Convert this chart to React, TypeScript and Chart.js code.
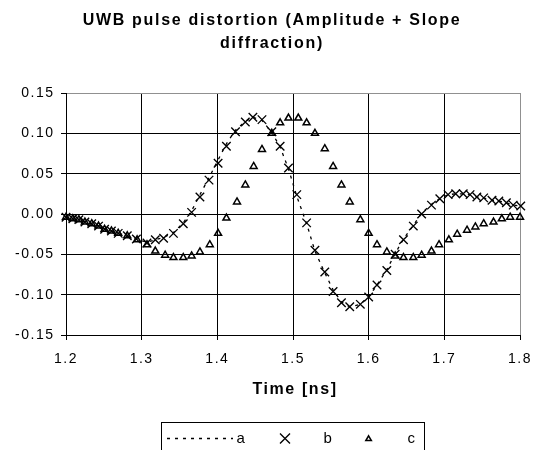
import React, { useEffect, useRef } from 'react';
import { Chart, registerables } from 'chart.js';

Chart.register(...registerables);

// ---- data ----
const chartTitle = ['UWB pulse distortion (Amplitude + Slope', 'diffraction)'];
const xAxisTitle = 'Time [ns]';
const seriesLabels = ['a', 'b', 'c'];

const xMin = 1.2;
const xMax = 1.8;
const xStep = 0.1;
const yMin = -0.15;
const yMax = 0.15;
const yStep = 0.05;

const timeB = [
  1.2, 1.209, 1.217, 1.225, 1.234, 1.243, 1.251, 1.26, 1.269, 1.281,
  1.293, 1.307, 1.318, 1.329, 1.342, 1.355, 1.366, 1.377, 1.389, 1.401,
  1.412, 1.424, 1.437, 1.447, 1.459, 1.472, 1.483, 1.494, 1.505, 1.518,
  1.529, 1.542, 1.553, 1.564, 1.575, 1.589, 1.6, 1.611, 1.624, 1.635,
  1.646, 1.659, 1.67, 1.683, 1.694, 1.705, 1.715, 1.725, 1.734, 1.743,
  1.752, 1.763, 1.772, 1.782, 1.791, 1.801,
];

const valuesA = [
  -0.004, -0.006, -0.007, -0.01, -0.012, -0.015, -0.019, -0.021, -0.024, -0.027,
  -0.031, -0.035, -0.032, -0.029, -0.023, -0.011, 0.004, 0.024, 0.045, 0.067,
  0.087, 0.104, 0.115, 0.12, 0.116, 0.101, 0.083, 0.056, 0.022, -0.012,
  -0.046, -0.073, -0.094, -0.109, -0.115, -0.112, -0.103, -0.088, -0.069, -0.049,
  -0.031, -0.014, 0.001, 0.012, 0.019, 0.024, 0.025, 0.025, 0.024, 0.021,
  0.02, 0.017, 0.016, 0.014, 0.011, 0.01,
];

const valuesB = [
  -0.004, -0.006, -0.007, -0.01, -0.012, -0.015, -0.019, -0.021, -0.024, -0.027,
  -0.031, -0.036, -0.032, -0.03, -0.024, -0.012, 0.002, 0.021, 0.042, 0.063,
  0.084, 0.102, 0.114, 0.12, 0.117, 0.102, 0.084, 0.057, 0.024, -0.011,
  -0.045, -0.072, -0.096, -0.11, -0.115, -0.112, -0.103, -0.088, -0.07, -0.05,
  -0.032, -0.015, 0.0, 0.011, 0.019, 0.024, 0.025, 0.025, 0.024, 0.021,
  0.02, 0.017, 0.016, 0.014, 0.011, 0.01,
];

const timeC = [
  1.2, 1.209, 1.217, 1.225, 1.234, 1.243, 1.251, 1.26, 1.269, 1.281,
  1.294, 1.307, 1.318, 1.331, 1.342, 1.355, 1.366, 1.377, 1.39, 1.401,
  1.412, 1.426, 1.437, 1.448, 1.459, 1.472, 1.483, 1.494, 1.507, 1.518,
  1.529, 1.542, 1.553, 1.564, 1.575, 1.589, 1.6, 1.611, 1.624, 1.635,
  1.646, 1.659, 1.67, 1.683, 1.693, 1.706, 1.717, 1.73, 1.741, 1.752,
  1.765, 1.776, 1.787, 1.8,
];

const valuesC = [
  -0.004, -0.006, -0.007, -0.01, -0.012, -0.015, -0.019, -0.021, -0.024, -0.027,
  -0.032, -0.038, -0.046, -0.051, -0.054, -0.054, -0.052, -0.047, -0.038, -0.024,
  -0.005, 0.015, 0.036, 0.059, 0.08, 0.1, 0.113, 0.119, 0.119, 0.113,
  0.1, 0.081, 0.059, 0.036, 0.015, -0.007, -0.024, -0.038, -0.047, -0.052,
  -0.054, -0.054, -0.051, -0.046, -0.038, -0.032, -0.025, -0.02, -0.016, -0.012,
  -0.01, -0.006, -0.004, -0.004,
];

const FONT = '"Liberation Sans", Arial, Helvetica, sans-serif';
const GRID = '#000000';
const EDGE = '#909090';

function toPoints(xs: number[], ys: number[]) {
  return xs.map((x, i) => ({ x, y: ys[i] }));
}

export default function App() {
  const ref = useRef<HTMLCanvasElement>(null);

  useEffect(() => {
    const canvas = ref.current;
    if (!canvas) return;

    const overlay = {
      id: 'overlay',
      beforeDraw(chart: any) {
        (chart.ctx as any).letterSpacing = '1.5px';
      },
      afterDraw(chart: any) {
        const ctx = chart.ctx as CanvasRenderingContext2D & { letterSpacing: string };
        const area = chart.chartArea;
        ctx.save();
        ctx.fillStyle = '#000';
        ctx.textAlign = 'center';
        ctx.textBaseline = 'alphabetic';

        // title
        ctx.font = `bold 16px ${FONT}`;
        ctx.letterSpacing = '1.7px';
        ctx.fillText(chartTitle[0], 272, 24.5);
        ctx.fillText(chartTitle[1], 272, 47.5);

        // x axis title
        ctx.letterSpacing = '1.6px';
        ctx.fillText(xAxisTitle, (area.left + area.right) / 2 + 2, 394);

        // legend box
        const lgLeft = 161.5;
        const lgTop = 422.5;
        const lgWidth = 263;
        const lgHeight = 40;
        const cy = 438.5;
        ctx.strokeStyle = '#000';
        ctx.lineWidth = 1;
        ctx.setLineDash([]);
        ctx.strokeRect(lgLeft, lgTop, lgWidth, lgHeight);

        const ds = chart.data.datasets;
        // a : dotted line
        ctx.setLineDash(ds[0].borderDash || []);
        ctx.lineWidth = ds[0].borderWidth;
        ctx.beginPath();
        ctx.moveTo(167, cy);
        ctx.lineTo(233, cy);
        ctx.stroke();
        ctx.setLineDash([]);

        // b : cross
        ctx.lineWidth = ds[1].borderWidth;
        ctx.beginPath();
        ctx.moveTo(280, cy - 5);
        ctx.lineTo(290, cy + 5);
        ctx.moveTo(280, cy + 5);
        ctx.lineTo(290, cy - 5);
        ctx.stroke();

        // c : triangle
        const tr = 3.2;
        const tx = 368.6;
        const ty = cy + 0.5;
        ctx.lineWidth = ds[2].borderWidth;
        ctx.beginPath();
        for (let k = 0; k < 3; k++) {
          const ang = (k * 2 * Math.PI) / 3;
          const px = tx + Math.sin(ang) * tr;
          const py = ty - Math.cos(ang) * tr;
          if (k === 0) ctx.moveTo(px, py);
          else ctx.lineTo(px, py);
        }
        ctx.closePath();
        ctx.stroke();

        ctx.font = `15px ${FONT}`;
        ctx.letterSpacing = '0px';
        ctx.fillText(ds[0].label, 240.6, 442.5);
        ctx.fillText(ds[1].label, 327.6, 442.5);
        ctx.fillText(ds[2].label, 411.3, 442.5);
        ctx.restore();
      },
    };

    const chart = new Chart(canvas, {
      type: 'scatter',
      data: {
        datasets: [
          {
            label: seriesLabels[0],
            data: toPoints(timeB, valuesA),
            showLine: true,
            borderColor: '#000',
            borderWidth: 1.3,
            borderDash: [3, 5],
            pointRadius: 0,
            pointHoverRadius: 0,
            fill: false,
            tension: 0,
            clip: false as any,
          },
          {
            label: seriesLabels[1],
            data: toPoints(timeB, valuesB),
            showLine: false,
            pointStyle: 'crossRot',
            pointRadius: 6,
            pointBorderWidth: 1.35,
            borderWidth: 1.35,
            borderColor: '#000',
            backgroundColor: '#000',
            clip: false as any,
          },
          {
            label: seriesLabels[2],
            data: toPoints(timeC, valuesC),
            showLine: false,
            pointStyle: 'triangle',
            pointRadius: 4,
            pointBorderWidth: 1.5,
            borderWidth: 1.5,
            borderColor: '#000',
            backgroundColor: 'rgba(255,255,255,0)',
            clip: false as any,
          },
        ],
      },
      options: {
        responsive: false,
        animation: false,
        events: [],
        layout: { padding: { top: 93, right: 14, bottom: 75, left: 0 } },
        plugins: {
          legend: { display: false },
          title: { display: false },
          tooltip: { enabled: false },
        },
        scales: {
          x: {
            type: 'linear',
            min: xMin,
            max: xMax,
            afterFit: (s: any) => {
              s.height = 40;
              s.paddingLeft = 0;
              s.paddingRight = 0;
            },
            ticks: {
              stepSize: xStep,
              autoSkip: false,
              maxRotation: 0,
              padding: 11,
              color: '#000',
              font: { family: FONT, size: 14 },
              callback: (v: any) => Number(v).toFixed(1),
            },
            grid: {
              color: (c: any) => (c.index === 6 ? EDGE : GRID),
              lineWidth: 1,
              tickLength: 5,
              tickColor: '#000',
            },
            border: { display: true, color: '#000', width: 1 },
          },
          y: {
            type: 'linear',
            min: yMin,
            max: yMax,
            afterFit: (s: any) => {
              s.width = 66;
              s.paddingTop = 0;
              s.paddingBottom = 0;
            },
            ticks: {
              stepSize: yStep,
              autoSkip: false,
              padding: 6.5,
              color: '#000',
              font: { family: FONT, size: 14 },
              callback: (v: any) => Number(v).toFixed(2),
            },
            grid: {
              color: (c: any) => (c.index === 6 ? EDGE : GRID),
              lineWidth: 1,
              tickLength: 5,
              tickColor: '#000',
            },
            border: { display: true, color: '#000', width: 1 },
          },
        },
      },
      plugins: [overlay],
    } as any);

    return () => {
      chart.destroy();
    };
  }, []);

  return (
    <div style={{ position: 'absolute', left: 0, top: 0, width: 534, height: 450, background: '#fff' }}>
      <canvas ref={ref} width={534} height={450} style={{ display: 'block' }} />
    </div>
  );
}
